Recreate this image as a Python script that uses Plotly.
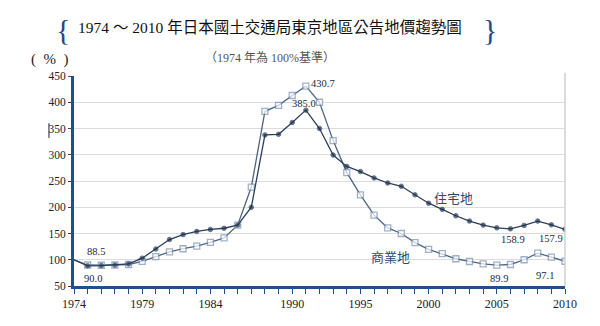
import plotly.graph_objects as go

years = list(range(1974, 2011))
residential = [100, 88.5, 89, 90, 92, 103, 120.5, 138.5, 148, 154,
               157.7, 160, 166, 200, 337.7, 339, 361.5, 385.0, 350, 299.4,
               277.7, 268, 255.8, 246.2, 240, 223.7, 207.7, 196, 183.8, 173.7,
               166, 160.8, 158.9, 165.4, 173.7, 166.5, 157.9]
commercial = [100, 90.0, 89.5, 90, 91, 97, 106, 115, 121, 126,
              133, 141.7, 166, 238.5, 382.7, 394, 412.9, 430.7, 400, 326.9,
              266, 223.7, 185, 160.8, 150, 132.7, 119.8, 111.5, 101.9, 96.7,
              92.3, 89.9, 91, 100, 112.7, 105, 97.1]
x_ticks = [1974, 1979, 1984, 1990, 1995, 2000, 2005, 2010]
y_ticks = [50, 100, 150, 200, 250, 300, 350, 400, 450]

SERIF = "Liberation Serif, Noto Sans CJK TC, serif"
AXIS = "#1f4f8f"

# hide the marker of the base year (it sits under the axis in the original)
com_sizes = [0] + [6] * (len(years) - 1)
res_sizes = [0] + [4.5] * (len(years) - 1)

fig = go.Figure()
fig.add_trace(go.Scatter(
    x=years, y=commercial, mode="lines+markers", name="商業地",
    line=dict(color="#4d6483", width=1.3),
    marker=dict(symbol="square", size=com_sizes, color="white",
                line=dict(color="#7a90b3", width=1.3)),
))
fig.add_trace(go.Scatter(
    x=years, y=residential, mode="lines+markers", name="住宅地",
    line=dict(color="#2a3f5c", width=1.3),
    marker=dict(symbol="circle", size=res_sizes, color="#1c2e48"),
))

def lab(x, y, text, xs=0, ys=0):
    fig.add_annotation(x=x, y=y, text=text, showarrow=False, xshift=xs, yshift=ys,
                       xanchor="center", yanchor="middle",
                       font=dict(family=SERIF, size=10.5, color="#1a2a40"))

lab(1975, residential[1], "88.5", 8, 14)
lab(1975, commercial[1], "90.0", 5, -13)
lab(1991, commercial[17], "430.7", 17, 3)
lab(1991, residential[17], "385.0", -2, 7)
lab(2006, residential[32], "158.9", 3, -11)
lab(2009, residential[35], "157.9", 0, -14)
lab(2005, commercial[31], "89.9", 2, -13)
lab(2009, commercial[35], "97.1", -6, -18)

fig.add_annotation(x=2001.8, y=218, text="住宅地", showarrow=False,
                   font=dict(family="Noto Sans CJK TC", size=13, color="#2a4a70"))
fig.add_annotation(x=1997.2, y=107, text="商業地", showarrow=False,
                   font=dict(family="Noto Sans CJK TC", size=13, color="#2a4a70"))

def head(x, yshift, text, size, color):
    fig.add_annotation(xref="paper", yref="paper", x=x, y=1.0, yshift=yshift,
                       xanchor="center", yanchor="middle", text=text, showarrow=False,
                       font=dict(family=SERIF, size=size, color=color))

head(0.399, 49, "1974 ～ 2010 年日本國土交通局東京地區公告地價趨勢圖", 15.5, "#111")
head(-0.022, 47, "{", 30, "#1d4a80")
head(0.847, 47, "}", 30, "#1d4a80")
head(0.399, 19, "（1974 年為 100%基準）", 12, "#555")
head(-0.049, 17, "(  %  )", 15, "#222")

# right border line
fig.add_shape(type="line", xref="paper", yref="paper", x0=1, x1=1, y0=0, y1=1.015,
              line=dict(color="#d0d0d0", width=1.5))
# small cursor-like mark left of the y axis
fig.add_shape(type="line", xref="paper", yref="paper", x0=-0.051, x1=-0.051,
              y0=0.705, y1=0.775, line=dict(color="#222", width=1))

fig.update_layout(
    width=600, height=326,
    margin=dict(l=74, r=35, t=76, b=40),
    paper_bgcolor="white", plot_bgcolor="white",
    showlegend=False,
    font=dict(family=SERIF, color="#222"),
)
fig.update_xaxes(range=[1974, 2010], tickvals=x_ticks, ticks="outside", ticklen=5,
                 tickcolor=AXIS, showline=True, linecolor=AXIS, linewidth=3,
                 showgrid=False, zeroline=False, tickfont=dict(family=SERIF, size=12, color="#222"),
                 minor=dict(dtick=1, tick0=1974, ticks="outside", ticklen=5, tickcolor=AXIS))
fig.update_yaxes(range=[50, 450], tickvals=y_ticks, ticks="outside", ticklen=3,
                 tickcolor="#444", showline=True, linecolor=AXIS, linewidth=3,
                 showgrid=True, gridcolor="#dcdcdc", gridwidth=1.2, zeroline=False,
                 tickfont=dict(family=SERIF, size=11.5, color="#222"))

fig.write_html("out.html")
